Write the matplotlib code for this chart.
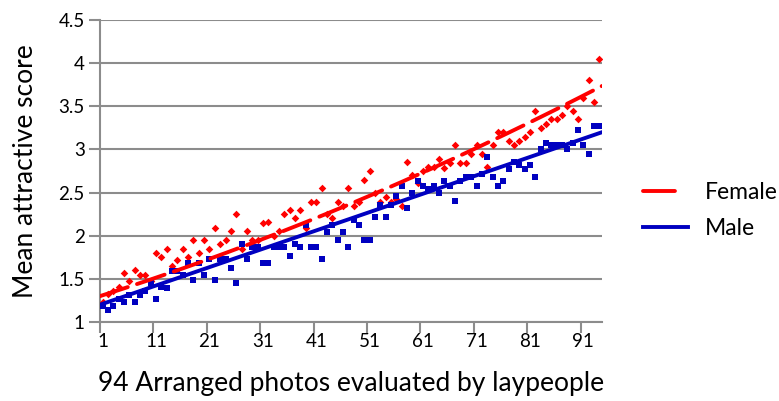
import matplotlib.pyplot as plt
from matplotlib.lines import Line2D
import numpy as np

plt.rcParams['font.family'] = ['Lato', 'DejaVu Sans']
plt.rcParams['lines.scale_dashes'] = False

# photo index 1..94
photo = np.arange(1, 95)

female = [1.23, 1.32, 1.36, 1.40, 1.57, 1.48, 1.60, 1.55, 1.55, 1.47,
          1.80, 1.75, 1.85, 1.65, 1.72, 1.85, 1.75, 1.95, 1.80, 1.95,
          1.85, 2.09, 1.90, 1.95, 2.05, 2.25, 1.85, 2.05, 1.95, 1.95,
          2.15, 2.16, 2.00, 2.05, 2.25, 2.30, 2.20, 2.30, 2.09, 2.39,
          2.39, 2.55, 2.25, 2.20, 2.39, 2.34, 2.55, 2.34, 2.39, 2.65,
          2.75, 2.50, 2.39, 2.45, 2.39, 2.43, 2.35, 2.85, 2.70, 2.61,
          2.75, 2.80, 2.80, 2.89, 2.78, 2.84, 3.05, 2.84, 2.84, 2.95,
          3.05, 2.95, 2.80, 3.05, 3.20, 3.20, 3.10, 3.05, 3.10, 3.15,
          3.20, 3.45, 3.25, 3.29, 3.35, 3.35, 3.40, 3.50, 3.45, 3.35,
          3.60, 3.80, 3.55, 4.05]

male = [1.19, 1.14, 1.19, 1.27, 1.23, 1.31, 1.23, 1.31, 1.36, 1.45,
        1.27, 1.41, 1.39, 1.59, 1.59, 1.54, 1.68, 1.49, 1.68, 1.54,
        1.73, 1.49, 1.73, 1.73, 1.63, 1.45, 1.90, 1.73, 1.87, 1.87,
        1.68, 1.68, 1.87, 1.87, 1.87, 1.77, 1.90, 1.87, 2.13, 1.87,
        1.87, 1.73, 2.04, 2.13, 1.95, 2.04, 1.87, 2.18, 2.13, 1.95,
        1.95, 2.22, 2.36, 2.22, 2.36, 2.46, 2.58, 2.32, 2.49, 2.63,
        2.58, 2.54, 2.58, 2.49, 2.63, 2.58, 2.40, 2.63, 2.68, 2.68,
        2.58, 2.72, 2.91, 2.68, 2.58, 2.63, 2.77, 2.86, 2.82, 2.77,
        2.82, 2.68, 3.00, 3.08, 3.05, 3.05, 3.05, 3.00, 3.08, 3.22,
        3.05, 2.95, 3.27, 3.27]

# trend lines (photo index -> score)
female_trend_x = [1, 52, 94]
female_trend_y = [1.31, 2.49, 3.72]
male_trend_x = [0.5, 94.5]
male_trend_y = [1.20, 3.20]

red = '#ff0000'
blue = '#0000c0'

fig = plt.figure(figsize=(7.79, 4.01), dpi=100)
ax = fig.add_axes([0.1284, 0.197, 0.6444, 0.753])

ax.scatter(photo, female, marker='D', s=15, color=red, linewidths=0, zorder=3)
ax.scatter(photo, male, marker='s', s=17, color=blue, linewidths=0, zorder=3)

xs = np.linspace(0.5, 94.5, 200)
fpoly = np.polyfit(female_trend_x, female_trend_y, 2)
mpoly = np.polyfit(male_trend_x, male_trend_y, 1)
ax.plot(xs, np.polyval(fpoly, xs), color=red, lw=2.8, dashes=(21, 7),
        dash_capstyle='round', zorder=4)
ax.plot(xs, np.polyval(mpoly, xs), color=blue, lw=2.8, zorder=4)

ax.set_xlim(0.5, 94.5)
ax.set_ylim(1, 4.5)
ax.set_yticks(np.arange(1, 4.51, 0.5))
ax.set_yticklabels(['1', '1.5', '2', '2.5', '3', '3.5', '4', '4.5'])
ax.set_xticks(np.arange(1, 95, 10))
ax.set_xticks(np.arange(0.5, 95, 10), minor=True)
ax.tick_params(axis='x', which='major', length=0, pad=8, labelsize=13.5)
ax.tick_params(axis='x', which='minor', length=8, width=1.5, color='#8c8c8c')
ax.tick_params(axis='y', length=8, width=1.5, color='#8c8c8c', pad=3, labelsize=13.5)
ax.grid(axis='y', color='#8c8c8c', lw=1.5)
ax.set_axisbelow(True)
for s in ['top', 'right']:
    ax.spines[s].set_visible(False)
for s in ['left', 'bottom']:
    ax.spines[s].set_color('#8c8c8c')
    ax.spines[s].set_linewidth(1.5)

ax.set_ylabel('Mean attractive score', fontsize=19, labelpad=15)
ax.set_xlabel('94 Arranged photos evaluated by laypeople', fontsize=19, labelpad=15)

handles = [Line2D([], [], color=red, lw=2.8, dashes=(23, 20), dash_capstyle='round'),
           Line2D([], [], color=blue, lw=2.8)]
fig.legend(handles, ['Female', 'Male'], loc='center left',
           bbox_to_anchor=(0.8136, 0.474), frameon=False, borderaxespad=0,
           fontsize=16.5, handlelength=1.96, handletextpad=0.74, labelspacing=0.65)

fig.savefig('out.png', dpi=100)
